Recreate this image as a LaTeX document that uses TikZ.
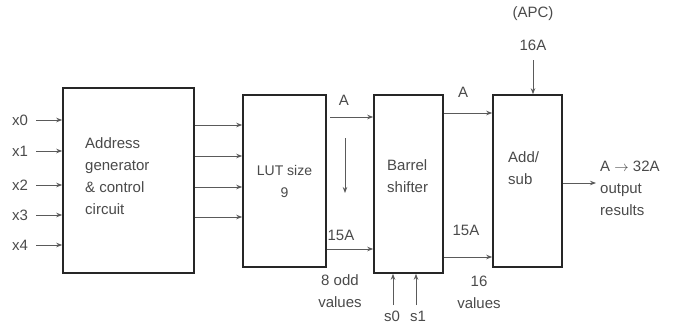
\documentclass[tikz,border=0pt]{standalone}
\usepackage{fontspec}
\setmainfont{Liberation Sans}
\usetikzlibrary{arrows.meta}
\definecolor{txt}{HTML}{4A4A4A}
\definecolor{ln}{HTML}{5A5A5A}
\begin{document}
\begin{tikzpicture}[x=1pt,y=-1pt,
  blk/.style={draw=black!85, line width=1.6pt, fill=white, inner sep=0pt},
  lbl/.style={text=txt, inner sep=1pt, font=\fontsize{15}{22}\selectfont, align=left},
  arr/.style={draw=ln, line width=0.9pt, -{Stealth[length=6pt,width=4.5pt]}}]
\useasboundingbox (0,0) rectangle (673,324);
% blocks
\node[blk, minimum width=131pt, minimum height=185pt] (b1) at (128.5,180.5) {};
\node[blk, minimum width=83pt, minimum height=172pt] (lut) at (284.5,181) {};
\node[blk, minimum width=69pt, minimum height=178pt] (bs) at (408.5,184) {};
\node[blk, minimum width=69pt, minimum height=172pt] (as) at (527.5,181) {};
\node[lbl, anchor=west] (t1) at (84,176) {Address\\generator\\\& control\\circuit};
\node[lbl, align=center, font=\fontsize{14}{22}\selectfont] (t2) at (284.5,181) {LUT size\\9};
\node[lbl, anchor=west] (t3) at (386,176) {Barrel\\shifter};
\node[lbl, anchor=west] (t4) at (507,168) {Add/\\sub};
% inputs
\foreach \n/\y in {0/120,1/151,2/185,3/215,4/245}{
  \node[lbl] (x\n) at (20,\y) {x\n};
  \draw[arr] ([xshift=7pt]x\n.east) -- (b1.west |- x\n.east);
}
% address gen -> LUT
\foreach \y in {125,156,187,217}{
  \draw[arr] (b1.east |- 0,\y) -- (lut.west |- 0,\y);
}
% LUT -> barrel
\coordinate (a1) at (330,117);
\draw[arr] (a1) -- (bs.west |- a1);
\node[lbl] (la1) at (344,100) {A};
\coordinate (d1) at (345,138);
\coordinate (d2) at (345,193);
\draw[arr] (d1) -- (d2);
\draw[arr] (lut.east |- 0,249) -- (bs.west |- 0,249);
\node[lbl] (l15a) at (341,235) {15A};
\node[lbl, align=center] (l8) at (340,291) {8 odd\\values};
% s0 s1
\node[lbl] (s0) at (392,316) {s0};
\node[lbl] (s1) at (418,316) {s1};
\coordinate (s0t) at (393,305);
\coordinate (s1t) at (416,305);
\draw[arr] (s0t) -- (bs.south -| s0t);
\draw[arr] (s1t) -- (bs.south -| s1t);
% barrel -> add
\draw[arr] (bs.east |- 0,113) -- (as.west |- 0,113);
\node[lbl] (la2) at (463,92) {A};
\draw[arr] (bs.east |- 0,257) -- (as.west |- 0,257);
\node[lbl] (l15b) at (466,230) {15A};
\node[lbl, align=center] (l16) at (479,292) {16\\values};
% 16A
\node[lbl] (apc) at (533,14) {(APC)};
\node[lbl] (l16a) at (533,45) {16A};
\coordinate (t16) at (533,60);
\draw[arr] (t16) -- (as.north -| t16);
% output
\coordinate (o1) at (596,183);
\draw[arr] (as.east |- o1) -- (o1);
\node[lbl, anchor=west] (out) at (599,188) {A $\rightarrow$ 32A\\output\\results};
\end{tikzpicture}
\end{document}
